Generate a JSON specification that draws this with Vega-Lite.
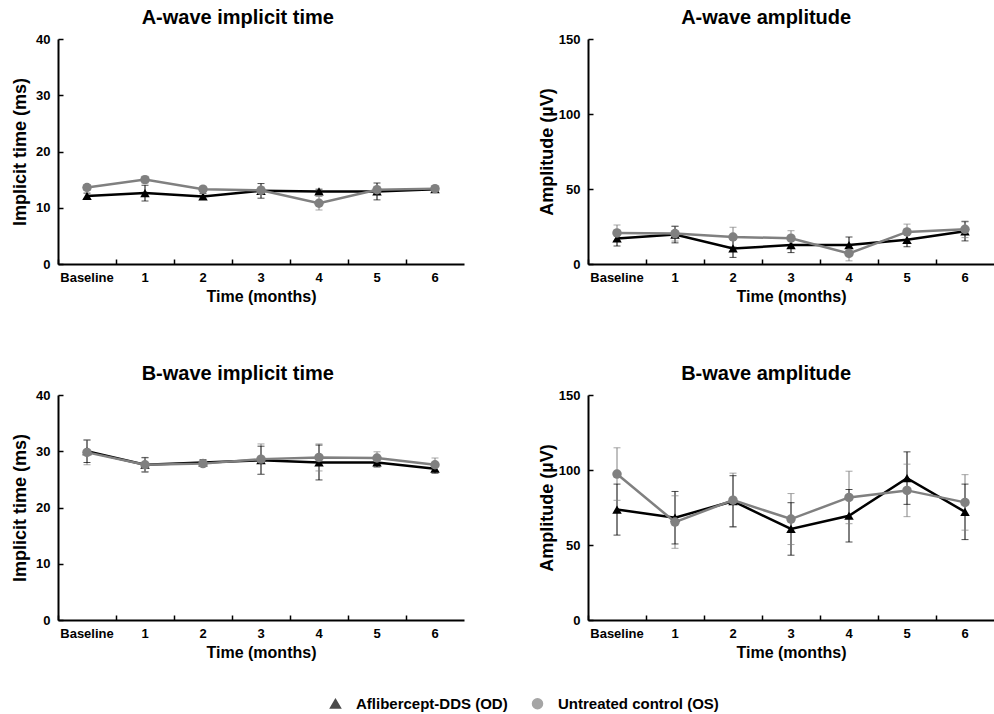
{
  "$schema": "https://vega.github.io/schema/vega-lite/v6.json",
  "background": "white",
  "padding": {"left": 11, "top": 8, "right": 0, "bottom": 0},
  "config": {
    "font": "Liberation Sans",
    "view": {"stroke": null},
    "title": {"fontSize": 20, "fontWeight": "bold", "color": "black", "offset": 5, "font": "Liberation Sans", "frame": "bounds"},
    "axis": {"domainColor": "black", "domainWidth": 2, "tickColor": "black", "tickWidth": 1.5, "grid": false, "labelColor": "black", "labelFontWeight": "bold", "labelFontSize": 13, "titleColor": "black", "titleFontWeight": "bold", "labelFont": "Liberation Sans", "titleFont": "Liberation Sans"},
    "axisX": {"titleFontSize": 16, "tickSize": -5, "labelPadding": 12, "titlePadding": 4, "labelAngle": 0},
    "axisY": {"titleFontSize": 18, "tickSize": -5, "labelPadding": 13, "titlePadding": 6},
    "legend": {"labelFontSize": 15, "labelFontWeight": "bold", "labelColor": "black", "labelFont": "Liberation Sans", "titleFontSize": 15, "labelLimit": 400}
  },
  "datasets": {
    "erg": [
      {"panel": "A1", "group": "Aflibercept-DDS (OD)", "time": "Baseline", "v": 12.1, "lo": 11.6, "hi": 12.6},
      {"panel": "A1", "group": "Aflibercept-DDS (OD)", "time": "1", "v": 12.6, "lo": 11.2, "hi": 14.0},
      {"panel": "A1", "group": "Aflibercept-DDS (OD)", "time": "2", "v": 12.0, "lo": 11.5, "hi": 12.5},
      {"panel": "A1", "group": "Aflibercept-DDS (OD)", "time": "3", "v": 13.0, "lo": 11.7, "hi": 14.3},
      {"panel": "A1", "group": "Aflibercept-DDS (OD)", "time": "4", "v": 12.9, "lo": 12.5, "hi": 13.3},
      {"panel": "A1", "group": "Aflibercept-DDS (OD)", "time": "5", "v": 12.9, "lo": 11.4, "hi": 14.4},
      {"panel": "A1", "group": "Aflibercept-DDS (OD)", "time": "6", "v": 13.3, "lo": 12.8, "hi": 13.8},
      {"panel": "A1", "group": "Untreated control (OS)", "time": "Baseline", "v": 13.6, "lo": 13.1, "hi": 14.1},
      {"panel": "A1", "group": "Untreated control (OS)", "time": "1", "v": 15.0, "lo": 14.4, "hi": 15.6},
      {"panel": "A1", "group": "Untreated control (OS)", "time": "2", "v": 13.3, "lo": 12.9, "hi": 13.7},
      {"panel": "A1", "group": "Untreated control (OS)", "time": "3", "v": 13.1, "lo": 12.5, "hi": 13.7},
      {"panel": "A1", "group": "Untreated control (OS)", "time": "4", "v": 10.8, "lo": 9.6, "hi": 12.0},
      {"panel": "A1", "group": "Untreated control (OS)", "time": "5", "v": 13.2, "lo": 12.6, "hi": 13.8},
      {"panel": "A1", "group": "Untreated control (OS)", "time": "6", "v": 13.4, "lo": 13.0, "hi": 13.8},

      {"panel": "A2", "group": "Aflibercept-DDS (OD)", "time": "Baseline", "v": 17.0, "lo": 12.0, "hi": 22.0},
      {"panel": "A2", "group": "Aflibercept-DDS (OD)", "time": "1", "v": 19.6, "lo": 14.1, "hi": 25.1},
      {"panel": "A2", "group": "Aflibercept-DDS (OD)", "time": "2", "v": 10.4, "lo": 4.4, "hi": 16.4},
      {"panel": "A2", "group": "Aflibercept-DDS (OD)", "time": "3", "v": 12.6, "lo": 7.6, "hi": 17.6},
      {"panel": "A2", "group": "Aflibercept-DDS (OD)", "time": "4", "v": 12.6, "lo": 7.2, "hi": 18.0},
      {"panel": "A2", "group": "Aflibercept-DDS (OD)", "time": "5", "v": 16.1, "lo": 11.5, "hi": 20.7},
      {"panel": "A2", "group": "Aflibercept-DDS (OD)", "time": "6", "v": 21.8, "lo": 15.4, "hi": 28.2},
      {"panel": "A2", "group": "Untreated control (OS)", "time": "Baseline", "v": 20.7, "lo": 15.4, "hi": 26.0},
      {"panel": "A2", "group": "Untreated control (OS)", "time": "1", "v": 20.3, "lo": 15.3, "hi": 25.3},
      {"panel": "A2", "group": "Untreated control (OS)", "time": "2", "v": 18.0, "lo": 11.5, "hi": 24.5},
      {"panel": "A2", "group": "Untreated control (OS)", "time": "3", "v": 17.2, "lo": 12.2, "hi": 22.2},
      {"panel": "A2", "group": "Untreated control (OS)", "time": "4", "v": 7.1, "lo": 2.1, "hi": 12.1},
      {"panel": "A2", "group": "Untreated control (OS)", "time": "5", "v": 21.4, "lo": 16.2, "hi": 26.6},
      {"panel": "A2", "group": "Untreated control (OS)", "time": "6", "v": 23.1, "lo": 17.6, "hi": 28.6},

      {"panel": "B1", "group": "Aflibercept-DDS (OD)", "time": "Baseline", "v": 30.0, "lo": 28.0, "hi": 32.0},
      {"panel": "B1", "group": "Aflibercept-DDS (OD)", "time": "1", "v": 27.6, "lo": 26.3, "hi": 28.9},
      {"panel": "B1", "group": "Aflibercept-DDS (OD)", "time": "2", "v": 28.0, "lo": 27.5, "hi": 28.5},
      {"panel": "B1", "group": "Aflibercept-DDS (OD)", "time": "3", "v": 28.4, "lo": 25.9, "hi": 30.9},
      {"panel": "B1", "group": "Aflibercept-DDS (OD)", "time": "4", "v": 28.0, "lo": 24.9, "hi": 31.1},
      {"panel": "B1", "group": "Aflibercept-DDS (OD)", "time": "5", "v": 28.0, "lo": 27.2, "hi": 28.8},
      {"panel": "B1", "group": "Aflibercept-DDS (OD)", "time": "6", "v": 26.9, "lo": 26.1, "hi": 27.7},
      {"panel": "B1", "group": "Untreated control (OS)", "time": "Baseline", "v": 29.8, "lo": 27.6, "hi": 32.0},
      {"panel": "B1", "group": "Untreated control (OS)", "time": "1", "v": 27.6, "lo": 26.4, "hi": 28.8},
      {"panel": "B1", "group": "Untreated control (OS)", "time": "2", "v": 27.8, "lo": 27.4, "hi": 28.2},
      {"panel": "B1", "group": "Untreated control (OS)", "time": "3", "v": 28.6, "lo": 25.9, "hi": 31.3},
      {"panel": "B1", "group": "Untreated control (OS)", "time": "4", "v": 28.9, "lo": 26.5, "hi": 31.3},
      {"panel": "B1", "group": "Untreated control (OS)", "time": "5", "v": 28.8, "lo": 27.7, "hi": 29.9},
      {"panel": "B1", "group": "Untreated control (OS)", "time": "6", "v": 27.6, "lo": 26.4, "hi": 28.8},

      {"panel": "B2", "group": "Aflibercept-DDS (OD)", "time": "Baseline", "v": 73.6, "lo": 56.6, "hi": 90.6},
      {"panel": "B2", "group": "Aflibercept-DDS (OD)", "time": "1", "v": 68.2, "lo": 50.7, "hi": 85.7},
      {"panel": "B2", "group": "Aflibercept-DDS (OD)", "time": "2", "v": 79.2, "lo": 62.2, "hi": 96.2},
      {"panel": "B2", "group": "Aflibercept-DDS (OD)", "time": "3", "v": 60.7, "lo": 43.2, "hi": 78.2},
      {"panel": "B2", "group": "Aflibercept-DDS (OD)", "time": "4", "v": 69.5, "lo": 52.0, "hi": 87.0},
      {"panel": "B2", "group": "Aflibercept-DDS (OD)", "time": "5", "v": 94.6, "lo": 77.1, "hi": 112.1},
      {"panel": "B2", "group": "Aflibercept-DDS (OD)", "time": "6", "v": 72.1, "lo": 53.6, "hi": 90.6},
      {"panel": "B2", "group": "Untreated control (OS)", "time": "Baseline", "v": 97.3, "lo": 79.8, "hi": 114.8},
      {"panel": "B2", "group": "Untreated control (OS)", "time": "1", "v": 65.3, "lo": 47.8, "hi": 82.8},
      {"panel": "B2", "group": "Untreated control (OS)", "time": "2", "v": 79.9, "lo": 61.9, "hi": 97.9},
      {"panel": "B2", "group": "Untreated control (OS)", "time": "3", "v": 67.3, "lo": 50.3, "hi": 84.3},
      {"panel": "B2", "group": "Untreated control (OS)", "time": "4", "v": 81.7, "lo": 64.2, "hi": 99.2},
      {"panel": "B2", "group": "Untreated control (OS)", "time": "5", "v": 86.4, "lo": 68.9, "hi": 103.9},
      {"panel": "B2", "group": "Untreated control (OS)", "time": "6", "v": 78.4, "lo": 59.9, "hi": 96.9}
    ]
  },
  "data": {"name": "erg"},
  "resolve": {"scale": {"color": "shared", "shape": "shared"}},
  "spacing": 60,
  "vconcat": [
    {
      "spacing": 74,
      "hconcat": [
        {
          "width": 406, "height": 225,
          "title": "A-wave implicit time",
          "transform": [{"filter": "datum.panel === 'A1'"}],
          "encoding": {
            "x": {"field": "time", "type": "ordinal", "sort": ["Baseline", "1", "2", "3", "4", "5", "6"], "scale": {"type": "band", "paddingInner": 0, "paddingOuter": 0}, "axis": {"title": "Time (months)", "bandPosition": 0}},
            "color": {"field": "group", "type": "nominal", "scale": {"domain": ["Aflibercept-DDS (OD)", "Untreated control (OS)"], "range": ["#000000", "#808080"]},
              "legend": {"title": " ", "titleOrient": "left", "titlePadding": 270, "orient": "bottom", "offset": 36, "direction": "horizontal", "symbolSize": 100, "labelOffset": 13, "columnPadding": 21}}
          },
          "layer": [
            {"mark": {"type": "rule", "strokeWidth": 1}, "encoding": {"y": {"field": "lo", "type": "quantitative", "scale": {"domain": [0, 40], "nice": false}, "axis": {"title": "Implicit time (ms)", "values": [0, 10, 20, 30, 40]}}, "y2": {"field": "hi"}}},
            {"mark": {"type": "tick", "size": 7, "thickness": 1}, "encoding": {"y": {"field": "lo", "type": "quantitative"}}},
            {"mark": {"type": "tick", "size": 7, "thickness": 1}, "encoding": {"y": {"field": "hi", "type": "quantitative"}}},
            {"mark": {"type": "line", "strokeWidth": 2.5}, "encoding": {"y": {"field": "v", "type": "quantitative"}}},
            {"mark": {"type": "point", "filled": true, "opacity": 1, "size": 90}, "encoding": {"y": {"field": "v", "type": "quantitative"}, "shape": {"field": "group", "type": "nominal", "scale": {"domain": ["Aflibercept-DDS (OD)", "Untreated control (OS)"], "range": ["triangle-up", "circle"]},
              "legend": {"title": " ", "titleOrient": "left", "titlePadding": 270, "orient": "bottom", "offset": 36, "direction": "horizontal", "symbolSize": 100, "labelOffset": 13, "columnPadding": 21}}}}
          ]
        },
        {
          "width": 406, "height": 225,
          "title": "A-wave amplitude",
          "transform": [{"filter": "datum.panel === 'A2'"}],
          "encoding": {
            "x": {"field": "time", "type": "ordinal", "sort": ["Baseline", "1", "2", "3", "4", "5", "6"], "scale": {"type": "band", "paddingInner": 0, "paddingOuter": 0}, "axis": {"title": "Time (months)", "bandPosition": 0}},
            "color": {"field": "group", "type": "nominal", "legend": null}
          },
          "layer": [
            {"mark": {"type": "rule", "strokeWidth": 1}, "encoding": {"y": {"field": "lo", "type": "quantitative", "scale": {"domain": [0, 150], "nice": false}, "axis": {"title": "Amplitude (µV)", "values": [0, 50, 100, 150], "titlePadding": 2}}, "y2": {"field": "hi"}}},
            {"mark": {"type": "tick", "size": 7, "thickness": 1}, "encoding": {"y": {"field": "lo", "type": "quantitative"}}},
            {"mark": {"type": "tick", "size": 7, "thickness": 1}, "encoding": {"y": {"field": "hi", "type": "quantitative"}}},
            {"mark": {"type": "line", "strokeWidth": 2.5}, "encoding": {"y": {"field": "v", "type": "quantitative"}}},
            {"mark": {"type": "point", "filled": true, "opacity": 1, "size": 90}, "encoding": {"y": {"field": "v", "type": "quantitative"}, "shape": {"field": "group", "type": "nominal", "legend": null}}}
          ]
        }
      ]
    },
    {
      "spacing": 74,
      "hconcat": [
        {
          "width": 406, "height": 225,
          "title": "B-wave implicit time",
          "transform": [{"filter": "datum.panel === 'B1'"}],
          "encoding": {
            "x": {"field": "time", "type": "ordinal", "sort": ["Baseline", "1", "2", "3", "4", "5", "6"], "scale": {"type": "band", "paddingInner": 0, "paddingOuter": 0}, "axis": {"title": "Time (months)", "bandPosition": 0}},
            "color": {"field": "group", "type": "nominal", "legend": null}
          },
          "layer": [
            {"mark": {"type": "rule", "strokeWidth": 1}, "encoding": {"y": {"field": "lo", "type": "quantitative", "scale": {"domain": [0, 40], "nice": false}, "axis": {"title": "Implicit time (ms)", "values": [0, 10, 20, 30, 40]}}, "y2": {"field": "hi"}}},
            {"mark": {"type": "tick", "size": 7, "thickness": 1}, "encoding": {"y": {"field": "lo", "type": "quantitative"}}},
            {"mark": {"type": "tick", "size": 7, "thickness": 1}, "encoding": {"y": {"field": "hi", "type": "quantitative"}}},
            {"mark": {"type": "line", "strokeWidth": 2.5}, "encoding": {"y": {"field": "v", "type": "quantitative"}}},
            {"mark": {"type": "point", "filled": true, "opacity": 1, "size": 90}, "encoding": {"y": {"field": "v", "type": "quantitative"}, "shape": {"field": "group", "type": "nominal", "legend": null}}}
          ]
        },
        {
          "width": 406, "height": 225,
          "title": "B-wave amplitude",
          "transform": [{"filter": "datum.panel === 'B2'"}],
          "encoding": {
            "x": {"field": "time", "type": "ordinal", "sort": ["Baseline", "1", "2", "3", "4", "5", "6"], "scale": {"type": "band", "paddingInner": 0, "paddingOuter": 0}, "axis": {"title": "Time (months)", "bandPosition": 0}},
            "color": {"field": "group", "type": "nominal", "legend": null}
          },
          "layer": [
            {"mark": {"type": "rule", "strokeWidth": 1}, "encoding": {"y": {"field": "lo", "type": "quantitative", "scale": {"domain": [0, 150], "nice": false}, "axis": {"title": "Amplitude (µV)", "values": [0, 50, 100, 150], "titlePadding": 2}}, "y2": {"field": "hi"}}},
            {"mark": {"type": "tick", "size": 7, "thickness": 1}, "encoding": {"y": {"field": "lo", "type": "quantitative"}}},
            {"mark": {"type": "tick", "size": 7, "thickness": 1}, "encoding": {"y": {"field": "hi", "type": "quantitative"}}},
            {"mark": {"type": "line", "strokeWidth": 2.5}, "encoding": {"y": {"field": "v", "type": "quantitative"}}},
            {"mark": {"type": "point", "filled": true, "opacity": 1, "size": 90}, "encoding": {"y": {"field": "v", "type": "quantitative"}, "shape": {"field": "group", "type": "nominal", "legend": null}}}
          ]
        }
      ]
    }
  ]
}
